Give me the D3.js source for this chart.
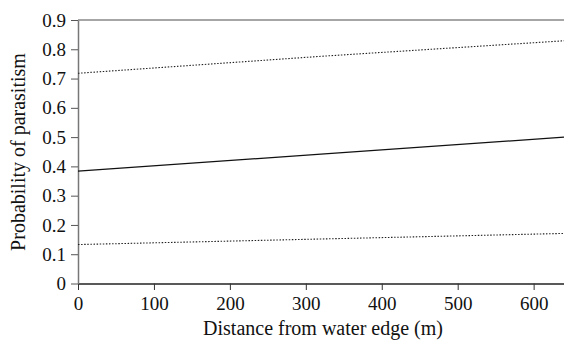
<!DOCTYPE html>
<html><head><meta charset="utf-8">
<script src="https://cdn.jsdelivr.net/npm/d3@7"></script>
<style>body{margin:0;background:#fff}svg{display:block}</style>
</head><body>
<script>
const distances = [0, 320, 640];
const upperCI = [0.718, 0.776, 0.829];
const estimate = [0.384, 0.442, 0.500];
const lowerCI = [0.133, 0.152, 0.171];
const xTicks = [0, 100, 200, 300, 400, 500, 600];
const yTicks = [0, 0.1, 0.2, 0.3, 0.4, 0.5, 0.6, 0.7, 0.8, 0.9];

const W = 564, H = 340;
const m = {l: 78, r: 0, t: 20, b: 56.5};
const FONT = '"Liberation Serif"';
const svg = d3.select("body").append("svg").attr("width", W).attr("height", H);
const x = d3.scaleLinear().domain([0, 640]).range([m.l, W - m.r]);
const y = d3.scaleLinear().domain([0, 0.9]).range([H - m.b, m.t]);

// top frame line
svg.append("line").attr("x1", m.l).attr("x2", W).attr("y1", y(0.9)).attr("y2", y(0.9))
  .attr("stroke", "#888").attr("stroke-width", 1.5);

const xa = svg.append("g").attr("transform", `translate(0,${y(0)})`)
  .call(d3.axisBottom(x).tickValues(xTicks).tickSize(6.5).tickSizeOuter(0).tickPadding(7).tickFormat(d3.format("d")));
const ya = svg.append("g").attr("transform", `translate(${m.l},0)`)
  .call(d3.axisLeft(y).tickValues(yTicks).tickSize(7).tickSizeOuter(0).tickPadding(5).tickFormat(d => d === 0 ? "0" : d3.format(".1f")(d)));
[xa, ya].forEach(a => {
  a.attr("font-family", null).attr("font-size", null);
  a.selectAll("text").style("font-family", FONT).style("font-size", "19px").attr("fill", "#111");
});
xa.select(".domain").attr("stroke", "#222").attr("stroke-width", 1.5);
ya.select(".domain").attr("stroke", "#777").attr("stroke-width", 1.5);
xa.selectAll(".tick line").attr("stroke", "#333");
ya.selectAll(".tick line").attr("stroke", "#555");

const line = d3.line().x((d, i) => x(distances[i])).y(d => y(d));
svg.append("path").datum(upperCI).attr("d", line).attr("fill", "none")
  .attr("stroke", "#222").attr("stroke-width", 1.1).attr("stroke-dasharray", "1.5,1.6");
svg.append("path").datum(lowerCI).attr("d", line).attr("fill", "none")
  .attr("stroke", "#222").attr("stroke-width", 1.1).attr("stroke-dasharray", "1.5,1.6");
svg.append("path").datum(estimate).attr("d", line).attr("fill", "none")
  .attr("stroke", "#111").attr("stroke-width", 1.2);

svg.append("text").attr("x", 323).attr("y", 335).attr("text-anchor", "middle")
  .style("font-family", FONT).style("font-size", "20px").attr("fill", "#111")
  .text("Distance from water edge (m)");
svg.append("text").attr("transform", `translate(25,152) rotate(-90)`)
  .attr("text-anchor", "middle")
  .style("font-family", FONT).style("font-size", "20px").attr("fill", "#111")
  .text("Probability of parasitism");
</script>
</body></html>
